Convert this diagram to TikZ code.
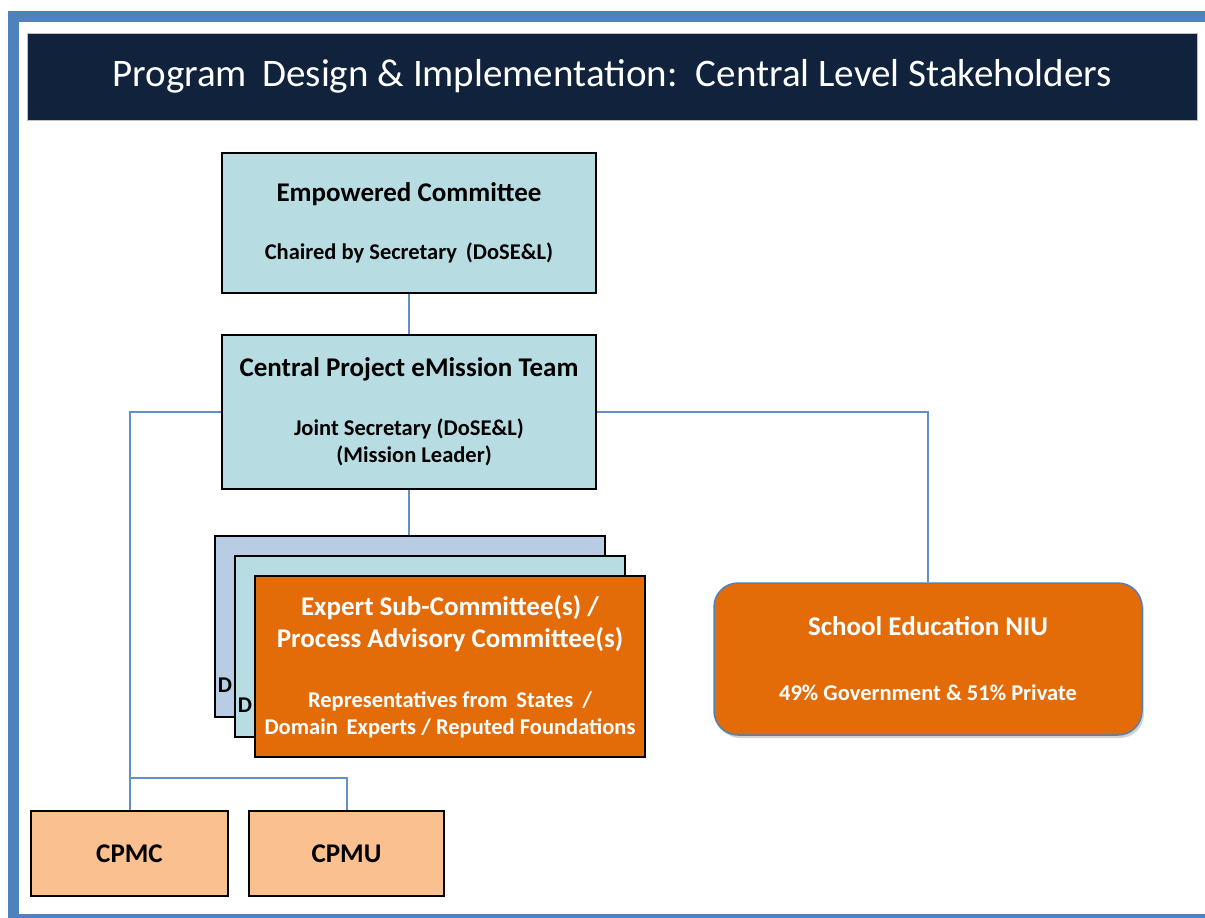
\documentclass[tikz,border=0pt]{standalone}
\usepackage{fontspec}
\setmainfont{Carlito}
\usetikzlibrary{shapes,arrows,positioning,fit,backgrounds,shadows}
\definecolor{frameblue}{RGB}{79,129,189}
\definecolor{navy}{RGB}{16,34,60}
\definecolor{paleblue}{RGB}{183,221,227}
\definecolor{steelblue}{RGB}{184,204,228}
\definecolor{deeporange}{RGB}{227,108,9}
\definecolor{peach}{RGB}{250,192,144}
\definecolor{linkblue}{RGB}{100,143,196}
\newcommand\subtext{\fontsize{22.5}{27}\selectfont}

\begin{document}
\begin{tikzpicture}[x=1pt,y=-1pt,every node/.style={font=\bfseries\fontsize{27}{32}\selectfont, align=center},
	box/.style={draw=black, line width=1.5pt, rectangle},
	link/.style={draw=linkblue, line width=2pt}]
	\useasboundingbox (0,0) rectangle (1205,918);
	\draw[frameblue, line width=11pt] (13.5,16.5) rectangle (1230,919.5);
	\node[fill=navy, draw=gray!50, line width=1pt, minimum width=1170pt, minimum height=87pt, text=white, font=\fontsize{39}{44}\selectfont] (title) at (612,76.5) {Program\, Design \& Implementation:\, Central Level Stakeholders};
	\node[box, fill=paleblue, minimum width=374pt, minimum height=140pt] (ec) at (409,223) {Empowered Committee\\[26pt]\subtext Chaired by Secretary\, (DoSE\&L)};
	\node[box, fill=paleblue, minimum width=374pt, minimum height=154pt] (cpt) at (409,412) {Central Project eMission Team\\[27pt]\subtext Joint Secretary (DoSE\&L)\\[-5pt]\subtext\ \ (Mission Leader)};
	\node[box, fill=steelblue, minimum width=390pt, minimum height=181pt] (back1) at (410,626.5) {};
	\node[anchor=west, font=\bfseries\subtext] at (back1.west |- 0,685) {D};
	\node[box, fill=paleblue, minimum width=390pt, minimum height=181pt] (back2) at (430,646.5) {};
	\node[anchor=west, font=\bfseries\subtext] at (back2.west |- 0,705) {D};
	\node[box, fill=deeporange, text=white, minimum width=390pt, minimum height=181pt] (esc) at (450,666.5) {Expert Sub-Committee(s) /\\Process Advisory Committee(s)\\[28pt]\subtext Representatives from\, States\, /\\[-5pt]\subtext Domain\, Experts / Reputed Foundations};
	\node[draw=frameblue, line width=1.5pt, fill=deeporange, text=white, rounded corners=24pt, minimum width=428pt, minimum height=152pt, drop shadow={opacity=0.35, shadow xshift=2pt, shadow yshift=-3pt}] (niu) at (928,659) {School Education NIU\\[33pt]\subtext 49\% Government \& 51\% Private};
	\node[box, fill=peach, minimum width=197pt, minimum height=85pt] (cpmc) at (129.5,853.5) {CPMC};
	\node[box, fill=peach, minimum width=195pt, minimum height=85pt] (cpmu) at (346.5,853.5) {CPMU};
	\coordinate (fork) at (129.5,778);
	\draw[link] (ec) -- (cpt);
	\draw[link] (cpt.south) -- (cpt.south |- back1.north);
	\draw[link] (cpt.west) -| (cpmc.north);
	\draw[link] (fork) -| (cpmu.north);
	\draw[link] (cpt.east) -| (niu.north);
\end{tikzpicture}
\end{document}
